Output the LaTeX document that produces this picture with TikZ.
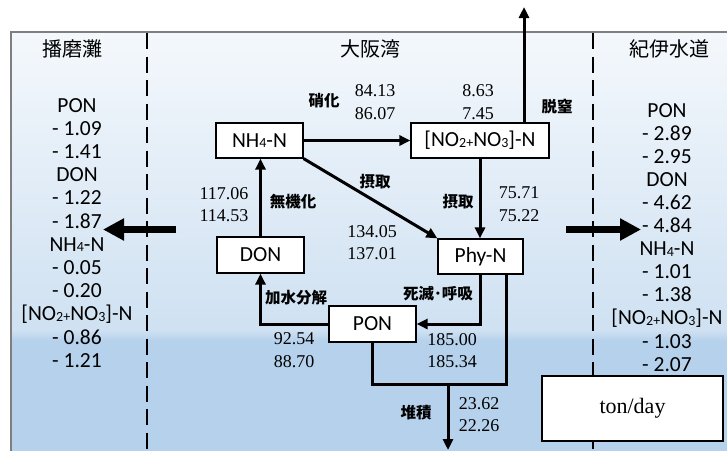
\documentclass[tikz,border=0pt]{standalone}
\usepackage{fontspec}
\setmainfont{Carlito}
\newfontfamily\serif{Liberation Serif}
\newfontfamily\jp{Noto Sans CJK JP}
\usetikzlibrary{arrows.meta}
\definecolor{frame}{HTML}{7F7F7F}
\definecolor{bgA}{HTML}{F4F8FC}
\definecolor{bgB}{HTML}{CFE1F2}
\definecolor{bgC}{HTML}{B5D1EB}
\newcommand\sbs[1]{\raisebox{-0.5pt}{\fontsize{14}{14}\selectfont #1}}
\tikzset{
  box/.style={draw, line width=1.2pt, fill=white, inner sep=0pt, font=\fontsize{21.5}{21.5}\selectfont},
  flow/.style={line width=3pt, -{Triangle[length=11pt,width=10pt]}},
  plain/.style={line width=3pt},
  fat/.style={line width=7.5pt, -{Triangle[length=21pt,width=21pt]}},
  num/.style={font=\serif\fontsize{18}{18}\selectfont, anchor=base, inner sep=0pt},
  lab/.style={font=\jp\bfseries\fontsize{15.5}{15.5}\selectfont, anchor=base, inner sep=0pt},
  ttl/.style={font=\jp\fontsize{20}{20}\selectfont, anchor=base, inner sep=0pt},
  coltx/.style={font=\fontsize{21.5}{21.5}\selectfont, anchor=base, inner sep=0pt},
  divider/.style={line width=1.8pt, dash pattern=on 16pt off 7.5pt},
}
\begin{document}
\begin{tikzpicture}[x=1pt,y=-1pt]
\useasboundingbox (0,0) rectangle (727,450);
\begin{scope}
\clip (0,0) rectangle (727,450);
% background
\shade[top color=bgA, bottom color=bgB] (11,32) rectangle (727,330);
\shade[top color=bgB, bottom color=bgC] (11,330) rectangle (727,341);
\fill[bgC] (11,341) rectangle (727,451);
\draw[frame, line width=1.8pt] (11,452) -- (11,32) -- (730,32);
% dividers
\draw[divider] (147,33) -- (147,450);
\draw[divider] (593,33) -- (593,450);
\end{scope}

% titles
\node[ttl] (t1) at (72.5,56.5) {播磨灘};
\node[ttl] (t2) at (370,56.5) {大阪湾};
\node[ttl] (t3) at (669,56.5) {紀伊水道};

% side columns
\foreach \t [count=\i] in {PON,- 1.09,- 1.41,DON,- 1.22,- 1.87,{NH\sbs{4}-N},- 0.05,- 0.20,{[NO\sbs{2+}NO\sbs{3}]-N},- 0.86,- 1.21}
  \node[coltx] (L\i) at (77,{112+23.2*(\i-1)}) {\t};
\foreach \t [count=\i] in {PON,- 2.89,- 2.95,DON,- 4.62,- 4.84,{NH\sbs{4}-N},- 1.01,- 1.38,{[NO\sbs{2+}NO\sbs{3}]-N},- 1.03,- 2.07}
  \node[coltx] (R\i) at (667,{117+23.1*(\i-1)}) {\t};

% boxes
\node[box, minimum width=87pt, minimum height=35pt] (nh) at (259.5,140.5) {NH\sbs{4}-N};
\node[box, minimum width=138pt, minimum height=35pt] (nox) at (480,140.5) {[NO\sbs{2+}NO\sbs{3}]-N};
\node[box, minimum width=87pt, minimum height=36pt] (don) at (260.5,255) {DON};
\node[box, minimum width=85pt, minimum height=35pt] (phy) at (480.5,256.5) {Phy-N};
\node[box, minimum width=87pt, minimum height=36pt] (pon) at (372.5,324) {PON};
\node[box, minimum width=181pt, minimum height=65pt, font=\serif\fontsize{22}{22}\selectfont] (unit) at (632.5,408.5) {ton/day};

% connectors
\coordinate (up) at (524,7);
\coordinate (sedj) at (506,384);
\coordinate (sed) at (448,384);
\coordinate (sedend) at (448,450);
\coordinate (lA) at (176,229.5);
\coordinate (lB) at (103,229.5);
\coordinate (rA) at (566,229.5);
\coordinate (rB) at (641,229.5);

\draw[flow] (nh.east) -- (nox.west);
\draw[flow] (nox.north -| up) -- (up);
\draw[flow] (nox.south) -- (nox.south |- phy.north);
\draw[flow] (nh.south east) -- (phy.north west);
\draw[flow] (don.north) -- (don.north |- nh.south);
\draw[flow] (pon.west) -| (don.south);
\draw[flow] (phy.south) |- (pon.east);
\draw[plain] (pon.south) |- (sedj) -- (phy.south -| sedj);
\draw[flow] (sed) -- (sedend);
\draw[fat] (lA) -- (lB);
\draw[fat] (rA) -- (rB);

% process labels
\node[lab] (l1) at (324,106.5) {硝化};
\node[lab] (l2) at (557,112.5) {脱窒};
\node[lab] (l3) at (458,207.5) {摂取};
\node[lab] (l4) at (375,187.5) {摂取};
\node[lab] (l5) at (293,207.5) {無機化};
\node[lab] (l6) at (296,303.5) {加水分解};
\node[lab] (l7) at (438,299.5) {死滅･呼吸};
\node[lab] (l8) at (416,418.5) {堆積};

% numbers
\node[num] (n1a) at (375,96) {84.13};
\node[num] (n1b) at (375,119) {86.07};
\node[num] (n2a) at (478,96) {8.63};
\node[num] (n2b) at (478,119) {7.45};
\node[num] (n3a) at (519,198) {75.71};
\node[num] (n3b) at (519,221) {75.22};
\node[num] (n4a) at (372,237) {134.05};
\node[num] (n4b) at (372,259) {137.01};
\node[num] (n5a) at (224,199) {117.06};
\node[num] (n5b) at (224,221) {114.53};
\node[num] (n6a) at (294,344) {92.54};
\node[num] (n6b) at (294,367) {88.70};
\node[num] (n7a) at (452,345) {185.00};
\node[num] (n7b) at (452,367) {185.34};
\node[num] (n8a) at (479,409) {23.62};
\node[num] (n8b) at (479,431) {22.26};
\end{tikzpicture}
\end{document}
